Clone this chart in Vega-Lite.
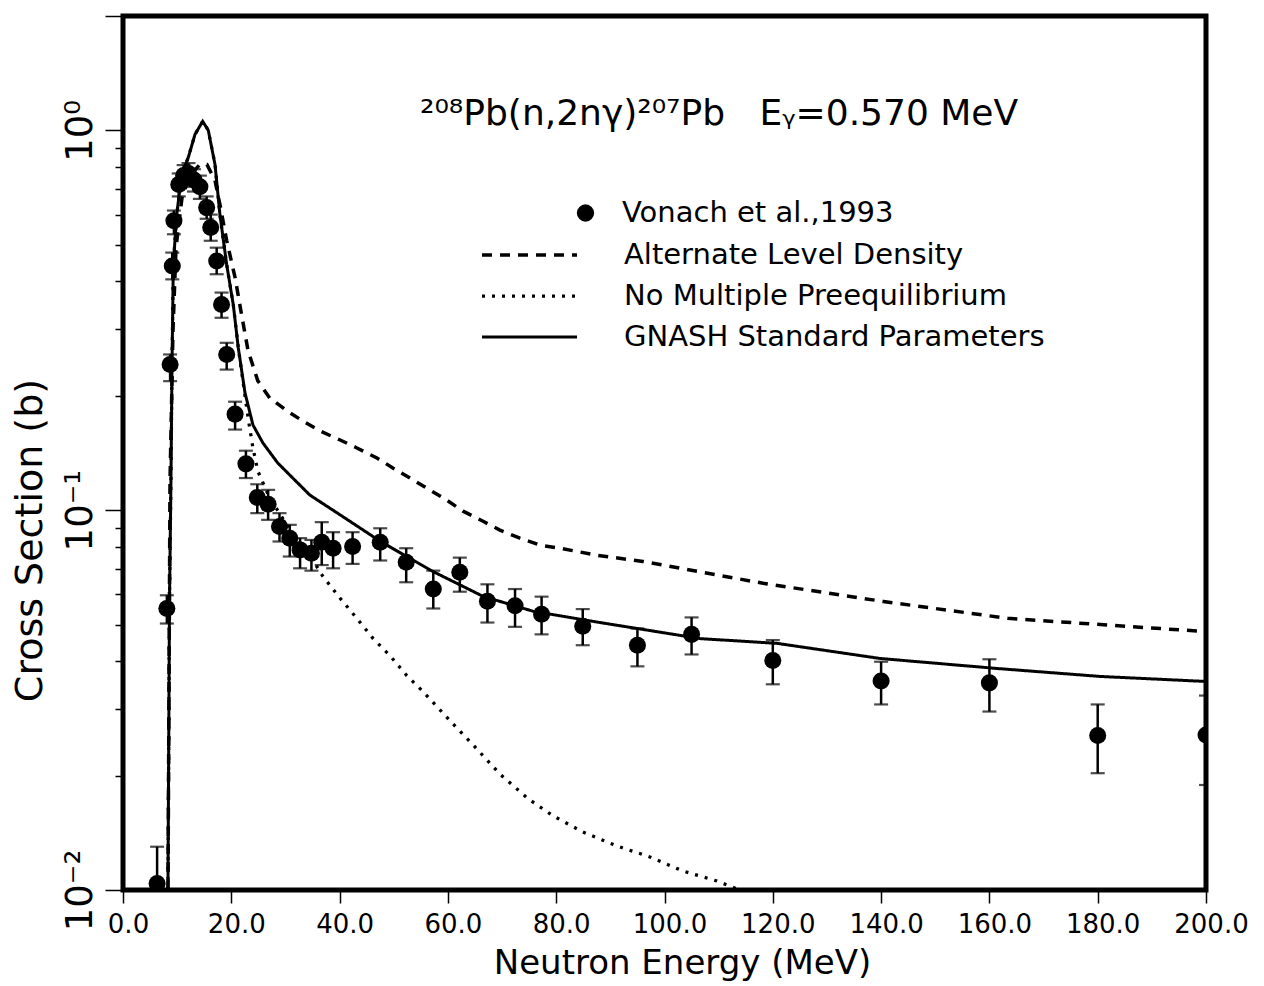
{
  "$schema": "https://vega.github.io/schema/vega-lite/v6.json",
  "autosize": "none",
  "width": 1083,
  "height": 874,
  "padding": {"left": 123, "top": 16, "right": 58, "bottom": 96},
  "background": "white",
  "config": {
    "view": {"stroke": "black", "strokeWidth": 5},
    "font": "DejaVu Sans",
    "axis": {"grid": false, "domain": false, "labelColor": "black", "titleColor": "black", "tickColor": "black", "labelFont": "DejaVu Sans", "titleFont": "DejaVu Sans", "titleFontWeight": "normal"},
    "legend": {"labelFont": "DejaVu Sans", "labelColor": "black", "padding": 0}
  },
  "title": {
    "text": "²⁰⁸Pb(n,2nγ)²⁰⁷Pb\u00a0\u00a0\u00a0Eᵧ=0.570 MeV",
    "font": "DejaVu Sans",
    "fontSize": 36,
    "fontWeight": "normal",
    "color": "black",
    "anchor": "start",
    "frame": "group",
    "orient": "top",
    "offset": 0,
    "baseline": "alphabetic",
    "dx": 297,
    "dy": 146
  },
  "datasets": {
    "points": [
      {"E": 6.3, "y": 0.0104, "lo": 0.0085, "hi": 0.013},
      {"E": 8.1, "y": 0.0551, "lo": 0.0503, "hi": 0.0597},
      {"E": 8.7, "y": 0.2417, "lo": 0.2186, "hi": 0.257},
      {"E": 9.1, "y": 0.4396, "lo": 0.4052, "hi": 0.4766},
      {"E": 9.4, "y": 0.578, "lo": 0.5326, "hi": 0.615},
      {"E": 10.3, "y": 0.72, "lo": 0.67, "hi": 0.77},
      {"E": 11.2, "y": 0.76, "lo": 0.71, "hi": 0.81},
      {"E": 12.1, "y": 0.77, "lo": 0.72, "hi": 0.82},
      {"E": 13.1, "y": 0.74, "lo": 0.69, "hi": 0.79},
      {"E": 14.2, "y": 0.71, "lo": 0.66, "hi": 0.76},
      {"E": 15.45, "y": 0.626, "lo": 0.585, "hi": 0.67},
      {"E": 16.2, "y": 0.555, "lo": 0.512, "hi": 0.6},
      {"E": 17.3, "y": 0.453, "lo": 0.418, "hi": 0.491},
      {"E": 18.2, "y": 0.348, "lo": 0.321, "hi": 0.374},
      {"E": 19.15, "y": 0.257, "lo": 0.2345, "hi": 0.2758},
      {"E": 20.7, "y": 0.179, "lo": 0.163, "hi": 0.193},
      {"E": 22.7, "y": 0.1324, "lo": 0.1215, "hi": 0.1434},
      {"E": 24.8, "y": 0.108, "lo": 0.0982, "hi": 0.117},
      {"E": 26.8, "y": 0.1037, "lo": 0.0943, "hi": 0.1131},
      {"E": 28.9, "y": 0.0906, "lo": 0.0827, "hi": 0.0982},
      {"E": 30.8, "y": 0.0844, "lo": 0.0755, "hi": 0.0915},
      {"E": 32.7, "y": 0.0786, "lo": 0.0703, "hi": 0.0844},
      {"E": 34.8, "y": 0.077, "lo": 0.0693, "hi": 0.0835},
      {"E": 36.7, "y": 0.0823, "lo": 0.0717, "hi": 0.093},
      {"E": 38.8, "y": 0.0794, "lo": 0.0703, "hi": 0.0875},
      {"E": 42.4, "y": 0.0802, "lo": 0.0722, "hi": 0.0875},
      {"E": 47.5, "y": 0.0823, "lo": 0.0737, "hi": 0.0896},
      {"E": 52.3, "y": 0.0729, "lo": 0.0646, "hi": 0.0794},
      {"E": 57.3, "y": 0.062, "lo": 0.0551, "hi": 0.0693},
      {"E": 62.2, "y": 0.0686, "lo": 0.061, "hi": 0.075},
      {"E": 67.3, "y": 0.0576, "lo": 0.0506, "hi": 0.0638},
      {"E": 72.4, "y": 0.056, "lo": 0.0493, "hi": 0.062},
      {"E": 77.3, "y": 0.0532, "lo": 0.0471, "hi": 0.0592},
      {"E": 84.9, "y": 0.0495, "lo": 0.0441, "hi": 0.0549},
      {"E": 95.0, "y": 0.0441, "lo": 0.0388, "hi": 0.0488},
      {"E": 105.0, "y": 0.0471, "lo": 0.0417, "hi": 0.0522},
      {"E": 120.0, "y": 0.0402, "lo": 0.0348, "hi": 0.0455},
      {"E": 140.0, "y": 0.0355, "lo": 0.0308, "hi": 0.0399},
      {"E": 160.0, "y": 0.0351, "lo": 0.0295, "hi": 0.0405},
      {"E": 180.0, "y": 0.0255, "lo": 0.0203, "hi": 0.0308},
      {"E": 200.0, "y": 0.0256, "lo": 0.0189, "hi": 0.0325}
    ],
    "curves": [
      {"series": "GNASH Standard Parameters", "E": 8.3, "y": 0.01},
      {"series": "GNASH Standard Parameters", "E": 8.59, "y": 0.0586},
      {"series": "GNASH Standard Parameters", "E": 8.86, "y": 0.1215},
      {"series": "GNASH Standard Parameters", "E": 9.05, "y": 0.241},
      {"series": "GNASH Standard Parameters", "E": 9.29, "y": 0.443},
      {"series": "GNASH Standard Parameters", "E": 9.92, "y": 0.6},
      {"series": "GNASH Standard Parameters", "E": 10.84, "y": 0.765},
      {"series": "GNASH Standard Parameters", "E": 12.06, "y": 0.849},
      {"series": "GNASH Standard Parameters", "E": 13.3, "y": 0.976},
      {"series": "GNASH Standard Parameters", "E": 14.72, "y": 1.056},
      {"series": "GNASH Standard Parameters", "E": 15.75, "y": 1.0},
      {"series": "GNASH Standard Parameters", "E": 16.99, "y": 0.813},
      {"series": "GNASH Standard Parameters", "E": 17.9, "y": 0.6},
      {"series": "GNASH Standard Parameters", "E": 19.15, "y": 0.443},
      {"series": "GNASH Standard Parameters", "E": 20.37, "y": 0.347},
      {"series": "GNASH Standard Parameters", "E": 21.29, "y": 0.2676},
      {"series": "GNASH Standard Parameters", "E": 22.53, "y": 0.2036},
      {"series": "GNASH Standard Parameters", "E": 24.0, "y": 0.1676},
      {"series": "GNASH Standard Parameters", "E": 25.85, "y": 0.1502},
      {"series": "GNASH Standard Parameters", "E": 28.6, "y": 0.133},
      {"series": "GNASH Standard Parameters", "E": 34.5, "y": 0.1096},
      {"series": "GNASH Standard Parameters", "E": 41.9, "y": 0.0935},
      {"series": "GNASH Standard Parameters", "E": 47.5, "y": 0.0828},
      {"series": "GNASH Standard Parameters", "E": 57.2, "y": 0.069},
      {"series": "GNASH Standard Parameters", "E": 66.5, "y": 0.0593},
      {"series": "GNASH Standard Parameters", "E": 75.7, "y": 0.0542},
      {"series": "GNASH Standard Parameters", "E": 88.1, "y": 0.0506},
      {"series": "GNASH Standard Parameters", "E": 106.6, "y": 0.0459},
      {"series": "GNASH Standard Parameters", "E": 120.8, "y": 0.0446},
      {"series": "GNASH Standard Parameters", "E": 139.8, "y": 0.0407},
      {"series": "GNASH Standard Parameters", "E": 161.4, "y": 0.0383},
      {"series": "GNASH Standard Parameters", "E": 180.4, "y": 0.0365},
      {"series": "GNASH Standard Parameters", "E": 200.0, "y": 0.0354},
      {"series": "Alternate Level Density", "E": 8.31, "y": 0.01},
      {"series": "Alternate Level Density", "E": 8.68, "y": 0.119},
      {"series": "Alternate Level Density", "E": 9.23, "y": 0.2967},
      {"series": "Alternate Level Density", "E": 9.79, "y": 0.491},
      {"series": "Alternate Level Density", "E": 10.9, "y": 0.6655},
      {"series": "Alternate Level Density", "E": 12.37, "y": 0.761},
      {"series": "Alternate Level Density", "E": 14.2, "y": 0.813},
      {"series": "Alternate Level Density", "E": 15.5, "y": 0.813},
      {"series": "Alternate Level Density", "E": 16.99, "y": 0.738},
      {"series": "Alternate Level Density", "E": 17.9, "y": 0.638},
      {"series": "Alternate Level Density", "E": 19.15, "y": 0.5126},
      {"series": "Alternate Level Density", "E": 20.7, "y": 0.4094},
      {"series": "Alternate Level Density", "E": 21.9, "y": 0.327},
      {"series": "Alternate Level Density", "E": 23.1, "y": 0.2628},
      {"series": "Alternate Level Density", "E": 24.9, "y": 0.219},
      {"series": "Alternate Level Density", "E": 27.1, "y": 0.1974},
      {"series": "Alternate Level Density", "E": 30.3, "y": 0.1825},
      {"series": "Alternate Level Density", "E": 33.2, "y": 0.1717},
      {"series": "Alternate Level Density", "E": 36.4, "y": 0.1616},
      {"series": "Alternate Level Density", "E": 40.1, "y": 0.153},
      {"series": "Alternate Level Density", "E": 43.2, "y": 0.1458},
      {"series": "Alternate Level Density", "E": 46.9, "y": 0.1372},
      {"series": "Alternate Level Density", "E": 49.9, "y": 0.129},
      {"series": "Alternate Level Density", "E": 53.0, "y": 0.1215},
      {"series": "Alternate Level Density", "E": 56.7, "y": 0.1129},
      {"series": "Alternate Level Density", "E": 59.8, "y": 0.1063},
      {"series": "Alternate Level Density", "E": 62.8, "y": 0.0994},
      {"series": "Alternate Level Density", "E": 66.5, "y": 0.0935},
      {"series": "Alternate Level Density", "E": 69.6, "y": 0.0886},
      {"series": "Alternate Level Density", "E": 73.3, "y": 0.0844},
      {"series": "Alternate Level Density", "E": 77.0, "y": 0.0809},
      {"series": "Alternate Level Density", "E": 80.7, "y": 0.0794},
      {"series": "Alternate Level Density", "E": 87.5, "y": 0.0761},
      {"series": "Alternate Level Density", "E": 96.0, "y": 0.0733},
      {"series": "Alternate Level Density", "E": 118.2, "y": 0.0642},
      {"series": "Alternate Level Density", "E": 140.4, "y": 0.0575},
      {"series": "Alternate Level Density", "E": 163.4, "y": 0.0519},
      {"series": "Alternate Level Density", "E": 185.8, "y": 0.0494},
      {"series": "Alternate Level Density", "E": 200.0, "y": 0.0479},
      {"series": "No Multiple Preequilibrium", "E": 8.3, "y": 0.01},
      {"series": "No Multiple Preequilibrium", "E": 8.59, "y": 0.0586},
      {"series": "No Multiple Preequilibrium", "E": 8.86, "y": 0.1215},
      {"series": "No Multiple Preequilibrium", "E": 9.05, "y": 0.241},
      {"series": "No Multiple Preequilibrium", "E": 9.29, "y": 0.443},
      {"series": "No Multiple Preequilibrium", "E": 9.92, "y": 0.6},
      {"series": "No Multiple Preequilibrium", "E": 10.84, "y": 0.765},
      {"series": "No Multiple Preequilibrium", "E": 12.06, "y": 0.849},
      {"series": "No Multiple Preequilibrium", "E": 13.3, "y": 0.976},
      {"series": "No Multiple Preequilibrium", "E": 14.72, "y": 1.056},
      {"series": "No Multiple Preequilibrium", "E": 15.75, "y": 1.0},
      {"series": "No Multiple Preequilibrium", "E": 16.99, "y": 0.813},
      {"series": "No Multiple Preequilibrium", "E": 17.9, "y": 0.6},
      {"series": "No Multiple Preequilibrium", "E": 19.15, "y": 0.443},
      {"series": "No Multiple Preequilibrium", "E": 20.37, "y": 0.347},
      {"series": "No Multiple Preequilibrium", "E": 21.29, "y": 0.2676},
      {"series": "No Multiple Preequilibrium", "E": 23.1, "y": 0.175},
      {"series": "No Multiple Preequilibrium", "E": 24.0, "y": 0.1458},
      {"series": "No Multiple Preequilibrium", "E": 24.9, "y": 0.1267},
      {"series": "No Multiple Preequilibrium", "E": 27.1, "y": 0.1076},
      {"series": "No Multiple Preequilibrium", "E": 30.3, "y": 0.0913},
      {"series": "No Multiple Preequilibrium", "E": 34.5, "y": 0.0761},
      {"series": "No Multiple Preequilibrium", "E": 36.9, "y": 0.067},
      {"series": "No Multiple Preequilibrium", "E": 40.1, "y": 0.0586},
      {"series": "No Multiple Preequilibrium", "E": 43.2, "y": 0.0519},
      {"series": "No Multiple Preequilibrium", "E": 46.2, "y": 0.0459},
      {"series": "No Multiple Preequilibrium", "E": 49.3, "y": 0.0414},
      {"series": "No Multiple Preequilibrium", "E": 52.4, "y": 0.0367},
      {"series": "No Multiple Preequilibrium", "E": 55.4, "y": 0.0333},
      {"series": "No Multiple Preequilibrium", "E": 60.4, "y": 0.0279},
      {"series": "No Multiple Preequilibrium", "E": 65.0, "y": 0.0238},
      {"series": "No Multiple Preequilibrium", "E": 69.6, "y": 0.0202},
      {"series": "No Multiple Preequilibrium", "E": 74.8, "y": 0.0174},
      {"series": "No Multiple Preequilibrium", "E": 79.4, "y": 0.01568},
      {"series": "No Multiple Preequilibrium", "E": 84.9, "y": 0.01422},
      {"series": "No Multiple Preequilibrium", "E": 91.2, "y": 0.01306},
      {"series": "No Multiple Preequilibrium", "E": 97.3, "y": 0.01222},
      {"series": "No Multiple Preequilibrium", "E": 103.4, "y": 0.01122},
      {"series": "No Multiple Preequilibrium", "E": 109.7, "y": 0.01056},
      {"series": "No Multiple Preequilibrium", "E": 113.9, "y": 0.01}
    ]
  },
  "resolve": {"axis": {"y": "independent"}},
  "layer": [
    {
      "data": {"name": "curves"},
      "mark": {"type": "line", "color": "black", "clip": true},
      "encoding": {
        "x": {
          "field": "E", "type": "quantitative",
          "scale": {"domain": [0, 200], "nice": false, "zero": false},
          "axis": {
            "values": [0, 20, 40, 60, 80, 100, 120, 140, 160, 180, 200],
            "format": ".1f",
            "tickSize": 13, "tickWidth": 1.5,
            "labelFontSize": 26, "labelPadding": 8, "labelOffset": 5, "labelFlush": false,
            "title": "Neutron Energy (MeV)", "titleFontSize": 34,
            "titleX": 559, "titleY": 83, "titleBaseline": "alphabetic", "titleAlign": "center", "titleAnchor": null
          }
        },
        "y": {
          "field": "y", "type": "quantitative",
          "scale": {"type": "log", "domain": [0.01, 2], "nice": false},
          "axis": {
            "orient": "left",
            "values": [0.01, 0.1, 1, 2],
            "tickSize": 18, "tickWidth": 1.5,
            "labelExpr": "datum.value > 1.5 ? '' : datum.value >= 0.5 ? '10⁰' : datum.value >= 0.05 ? '10⁻¹' : '10⁻²'",
            "labelAngle": 270, "labelFontSize": 37, "labelPadding": 6,
            "title": "Cross Section (b)", "titleFontSize": 38,
            "titleX": -93, "titleY": 524, "titleBaseline": "middle", "titleAlign": "center", "titleAngle": 270
          }
        },
        "strokeDash": {
          "field": "series", "type": "nominal",
          "scale": {
            "domain": ["Alternate Level Density", "No Multiple Preequilibrium", "GNASH Standard Parameters"],
            "range": [[10, 8], [3, 7], [1, 0]]
          },
          "legend": {
            "orient": "none", "legendX": 357, "legendY": 224,
            "title": null,
            "symbolType": "stroke", "symbolSize": 9025, "clipHeight": 30,
            "symbolStrokeWidth": 2.6, "symbolStrokeColor": "black",
            "labelFontSize": 29, "labelOffset": 45, "labelLimit": 800,
            "rowPadding": 11
          }
        },
        "strokeWidth": {
          "field": "series", "type": "nominal",
          "scale": {
            "domain": ["Alternate Level Density", "No Multiple Preequilibrium", "GNASH Standard Parameters"],
            "range": [3.5, 3, 1.6]
          },
          "legend": null
        }
      }
    },
    {
      "data": {"name": "points"},
      "mark": {"type": "errorbar", "ticks": {"size": 14, "thickness": 2.2, "color": "black"}, "rule": {"strokeWidth": 2.5, "color": "black"}, "clip": true},
      "encoding": {
        "x": {"field": "E", "type": "quantitative"},
        "y": {"field": "lo", "type": "quantitative", "axis": null},
        "y2": {"field": "hi"}
      }
    },
    {
      "data": {"name": "points"},
      "mark": {"type": "point", "filled": true, "size": 290, "color": "black", "opacity": 1, "clip": true},
      "encoding": {
        "x": {"field": "E", "type": "quantitative"},
        "y": {
          "field": "y", "type": "quantitative",
          "axis": {
            "orient": "left",
            "values": [0.02, 0.03, 0.04, 0.05, 0.06, 0.07, 0.08, 0.09, 0.2, 0.3, 0.4, 0.5, 0.6, 0.7, 0.8, 0.9],
            "tickSize": 8, "tickWidth": 1.5, "labels": false, "title": null
          }
        },
        "shape": {
          "datum": "Vonach et al.,1993", "type": "nominal",
          "scale": {"range": ["circle"]},
          "legend": {
            "orient": "none", "legendX": 448, "legendY": 182,
            "title": null,
            "symbolSize": 300, "symbolFillColor": "black", "symbolStrokeColor": "black", "clipHeight": 30,
            "labelFontSize": 29, "labelOffset": 22, "labelLimit": 800
          }
        }
      }
    }
  ]
}
